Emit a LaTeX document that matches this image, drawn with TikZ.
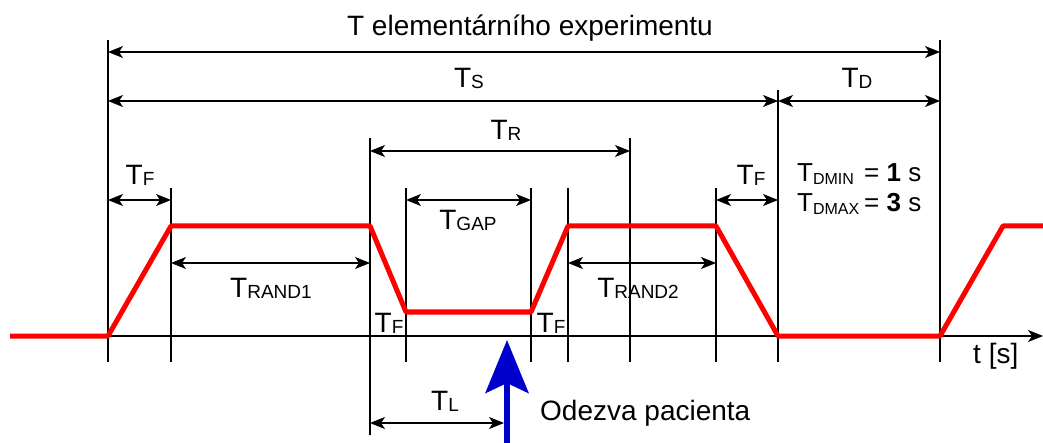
\documentclass[tikz,border=0pt]{standalone}
\usepackage{fontspec}
\setmainfont{Liberation Sans}
\usetikzlibrary{arrows.meta}
\definecolor{respblue}{RGB}{0,0,204}
\newcommand{\lowsub}[1]{\raisebox{-1pt}{\fontsize{19}{19}\selectfont #1}}
\newcommand{\lowsubb}[1]{\raisebox{-3pt}{\fontsize{16}{16}\selectfont #1}}

\begin{document}
\begin{tikzpicture}[x=1pt,y=-1pt,
  guide/.style={line width=1.1pt},
  dim/.style={line width=1.1pt,{Stealth[length=15pt,width=12pt,inset=4pt]}-{Stealth[length=15pt,width=12pt,inset=4pt]}},
  sig/.style={red,line width=5pt,line join=round},
  resp/.style={respblue,line width=6pt,-{Stealth[length=53pt,width=43pt,inset=10pt]}},
  lbl/.style={font=\fontsize{28}{28}\selectfont,inner sep=0pt}]
\useasboundingbox (0,0) rectangle (1043,443);
% guides
\draw[guide] (108,40)--(108,362); \draw[guide] (171,188)--(171,362); \draw[guide] (370,138)--(370,435);
\draw[guide] (406,188)--(406,362); \draw[guide] (531,188)--(531,362); \draw[guide] (568,188)--(568,362);
\draw[guide] (630,138)--(630,362); \draw[guide] (716,188)--(716,362); \draw[guide] (778,90)--(778,362);
\draw[guide] (940,40)--(940,362);
% time axis
\coordinate (O) at (10,336); \coordinate (Tend) at (1043,336);
\draw[guide,-{Stealth[length=15pt,width=12pt,inset=4pt]}] (O)--(Tend);
% signal
\coordinate (S1) at (108,336); \coordinate (S2) at (171,226); \coordinate (S3) at (370,226); \coordinate (S4) at (406,312);
\coordinate (S5) at (531,312); \coordinate (S6) at (568,226); \coordinate (S7) at (716,226); \coordinate (S8) at (778,336);
\coordinate (S9) at (940,336); \coordinate (S10) at (1003,226); \coordinate (S11) at (1043,226);
\draw[sig] (O)--(S1)--(S2)--(S3)--(S4)--(S5)--(S6)--(S7)--(S8)--(S9)--(S10)--(S11);
% dimensions
\coordinate (E1) at (108,52); \coordinate (E2) at (940,52);
\coordinate (Ts1) at (108,101); \coordinate (Ts2) at (778,101); \coordinate (Td2) at (940,101);
\coordinate (Tr1) at (370,151); \coordinate (Tr2) at (630,151);
\coordinate (Tf1) at (108,200); \coordinate (Tf2) at (171,200); \coordinate (Tg1) at (406,200); \coordinate (Tg2) at (531,200);
\coordinate (Tf3) at (716,200); \coordinate (Tf4) at (778,200);
\coordinate (Ta1) at (171,263); \coordinate (Ta2) at (370,263); \coordinate (Tb1) at (568,263); \coordinate (Tb2) at (716,263);
\coordinate (Tl1) at (370,423); \coordinate (Tl2) at (504,423);
\draw[dim] (E1)--(E2); \draw[dim] (Ts1)--(Ts2); \draw[dim] (Ts2)--(Td2); \draw[dim] (Tr1)--(Tr2);
\draw[dim] (Tf1)--(Tf2); \draw[dim] (Tg1)--(Tg2); \draw[dim] (Tf3)--(Tf4);
\draw[dim] (Ta1)--(Ta2); \draw[dim] (Tb1)--(Tb2); \draw[dim] (Tl1)--(Tl2);
% response
\coordinate (R0) at (507,443); \coordinate (R1) at (507,340);
\draw[resp] (R0)--(R1);
% labels
\node[lbl,anchor=base] (lexp) at (530,36) {T elementárního experimentu};
\node[lbl,anchor=base] (lts) at (469,88) {T\lowsub{S}};
\node[lbl,anchor=base] (ltd) at (857,88) {T\lowsub{D}};
\node[lbl,anchor=base] (ltr) at (506,140) {T\lowsub{R}};
\node[lbl,anchor=base] (ltf1) at (140,185) {T\lowsub{F}};
\node[lbl,anchor=base] (ltf2) at (751,185) {T\lowsub{F}};
\node[lbl,anchor=base] (ltgap) at (468,230) {T\lowsub{GAP}};
\node[lbl,anchor=base] (ltr1) at (271,298) {T\lowsub{RAND1}};
\node[lbl,anchor=base] (ltr2) at (638,298) {T\lowsub{RAND2}};
\node[lbl,anchor=base] (ltf3) at (389,332) {T\lowsub{F}};
\node[lbl,anchor=base] (ltf4) at (551,332) {T\lowsub{F}};
\node[lbl,anchor=base] (ltl) at (445,410) {T\lowsub{L}};
\node[lbl,anchor=base west] (lodez) at (540,420) {Odezva pacienta};
\node[lbl,anchor=base west] (lt) at (973,363) {t [s]};
\node[lbl,anchor=base west,font=\fontsize{26}{26}\selectfont] (ldmin) at (797,182) {T\lowsubb{DMIN}};
\node[lbl,anchor=base west,font=\fontsize{26}{26}\selectfont] (ldmax) at (797,212) {T\lowsubb{DMAX}};
\node[lbl,anchor=base west,font=\fontsize{26}{26}\selectfont] (lv1) at (864,182) {= \textbf{1} s};
\node[lbl,anchor=base west,font=\fontsize{26}{26}\selectfont] (lv2) at (864,212) {= \textbf{3} s};
\end{tikzpicture}
\end{document}
